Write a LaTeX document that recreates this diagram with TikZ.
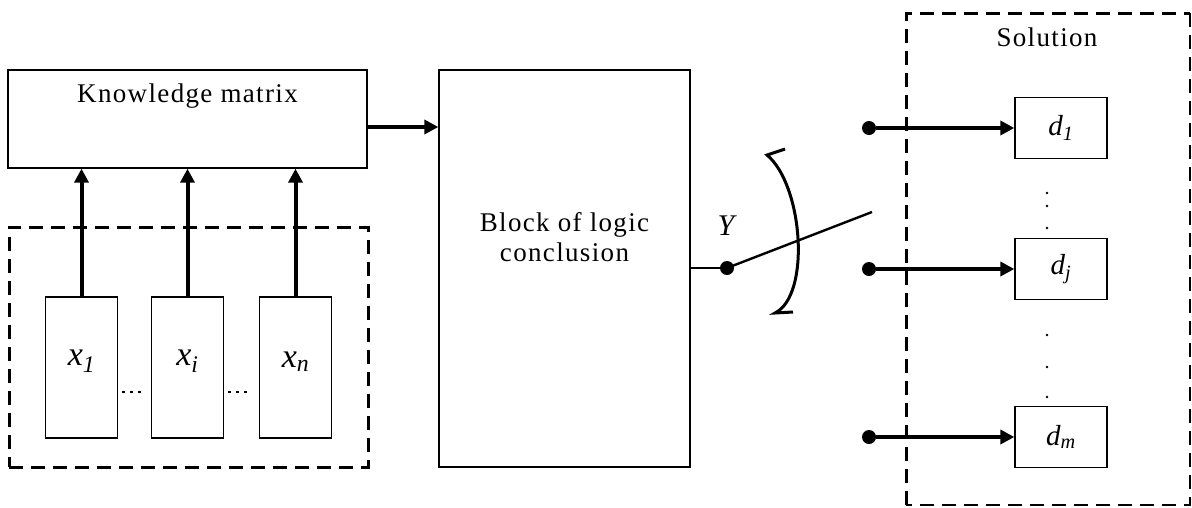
\documentclass[tikz,border=0pt]{standalone}
\usepackage{fontspec}
\setmainfont{Liberation Serif}
\newfontfamily\lblfont[LetterSpace=5]{Liberation Serif}
\usetikzlibrary{arrows.meta}

\tikzset{
    block/.style={draw, line width=1.3pt, inner sep=0pt},
    xbox/.style={block, minimum width=72pt, minimum height=141pt},
    dbox/.style={block, minimum width=92pt, minimum height=61pt},
    grp/.style={draw, dash pattern=on 14pt off 8pt, line width=3pt},
    lbl/.style={font=\lblfont\fontsize{27}{30}\selectfont, align=center},
    var/.style={font=\fontsize{34}{40}\selectfont\itshape},
    dvar/.style={font=\fontsize{29}{34}\selectfont\itshape},
    arr/.style={line width=4pt, -{Triangle[length=14pt,width=14pt]}},
    contact/.style={circle, fill, inner sep=0pt, minimum size=14pt},
    dots3/.style={line width=1.2pt, dash pattern=on 3pt off 5pt}
}

\begin{document}
\begin{tikzpicture}[x=1pt,y=-1pt]
\useasboundingbox (0,0) rectangle (1192,507);

% Blocks
\node[block, minimum width=359pt, minimum height=98pt] (km) at (187.5,119) {};
\node[lbl] at ([yshift=-27pt]km.north) {Knowledge matrix};
\node[block, minimum width=251pt, minimum height=397pt] (logic) at (564.5,268.5) {};
\node[lbl] at ([yshift=31pt]logic.center) {Block of logic\\conclusion};

% Inputs
\node[grp, minimum width=359pt, minimum height=240pt] (inputs) at (188.5,347) {};
\foreach \n/\cx/\s in {x1/81.5/1, xi/187.5/i, xn/295.5/n} {
    \node[xbox, label={[var,yshift=6pt]center:x\textsubscript{\s}}] (\n) at (\cx,367.5) {};
    \draw[arr] (\n.north) -- (\n.north |- km.south);
}
\draw[dots3, shorten <=4pt, shorten >=9pt] (x1.east |- 0,392) -- (xi.west |- 0,392);
\draw[dots3, shorten <=4pt, shorten >=9pt] (xi.east |- 0,392) -- (xn.west |- 0,392);

% Knowledge matrix to logic block
\coordinate (kmout) at ([yshift=-8pt]km.east);
\draw[arr] (kmout) -- (kmout -| logic.west);

% Switch
\node[contact] (ysw) at (727,268) {};
\node[font=\fontsize{30}{36}\selectfont\itshape] (ylbl) at (726,226) {Y};
\coordinate (swend) at (872,212);
\draw[line width=1.3pt] (logic.east |- ysw) -- (ysw);
\draw[line width=2.4pt] (ysw.center) -- (swend);
\draw[line width=3pt] (785,149) -- (767,155) .. controls (803,185) and (811,295) .. (775,313) -- (793,312);

% Solution
\draw[grp] (906,505) -- (906,13) -- (1190,13);
\draw[grp, line width=1.2pt] (1190,13) -- (1190,505) -- (906,505);
\node[lbl] (sol) at (1047,37) {Solution};
\foreach \n/\cy/\s in {d1/128/1, dj/269/j, dm/437/m} {
    \node[dbox, label={[dvar]center:d\textsubscript{\s}}] (\n) at (1061,\cy) {};
    \node[contact] (c\n) at (869,\cy) {};
    \draw[arr] (c\n) -- (\n.west);
}
\foreach \y in {193,206,228,335,367,397}
    \fill (1047,\y) circle (1.3pt);

\end{tikzpicture}
\end{document}
